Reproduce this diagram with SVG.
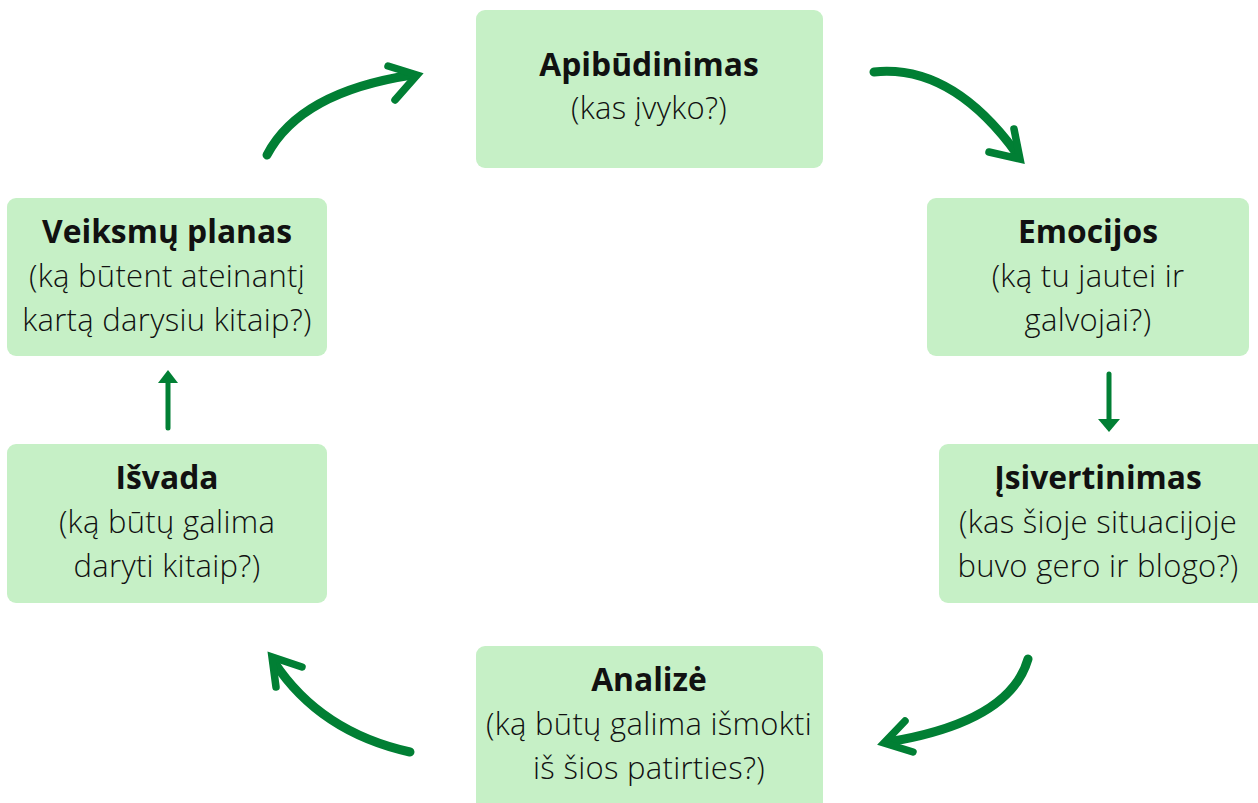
<svg xmlns="http://www.w3.org/2000/svg" width="1258" height="803" viewBox="0 0 1258 803">
<style>
.box{fill:#c6f0c6}
.t{font-family:"Open Sans","Noto Sans","Liberation Sans",sans-serif;font-size:31px;font-weight:300;letter-spacing:0.3px;fill:#111;text-anchor:middle}
.b{font-weight:bold;font-size:31.8px;letter-spacing:0}
.c{fill:none;stroke:#017f34;stroke-width:9;stroke-linecap:round;stroke-linejoin:round}
.h{fill:none;stroke:#017f34;stroke-width:7.5;stroke-linecap:round;stroke-linejoin:miter}
.s{fill:none;stroke:#017f34;stroke-width:5;stroke-linecap:round}
.sh{fill:#017f34}
</style>
<rect width="1258" height="803" fill="#fff"/>
<g id="apibudinimas"><rect class="box" x="476" y="10" width="347" height="158" rx="9"/>
<text class="t b" x="649" y="76">Apibūdinimas</text><text class="t" x="649" y="119">(kas įvyko?)</text></g>
<g id="emocijos"><rect class="box" x="927" y="198" width="322" height="158" rx="9"/>
<text class="t b" x="1088" y="243">Emocijos</text><text class="t" x="1088" y="287">(ką tu jautei ir</text><text class="t" x="1088" y="331">galvojai?)</text></g>
<g id="isivertinimas"><rect class="box" x="939" y="444" width="330" height="159" rx="9"/>
<text class="t b" x="1098" y="489">Įsivertinimas</text><text class="t" x="1098" y="533">(kas šioje situacijoje</text><text class="t" x="1098" y="577">buvo gero ir blogo?)</text></g>
<g id="analize"><rect class="box" x="476" y="646" width="347" height="170" rx="9"/>
<text class="t b" x="649" y="691">Analizė</text><text class="t" x="649" y="735">(ką būtų galima išmokti</text><text class="t" x="649" y="779">iš šios patirties?)</text></g>
<g id="isvada"><rect class="box" x="7" y="444" width="320" height="159" rx="9"/>
<text class="t b" x="167" y="489">Išvada</text><text class="t" x="167" y="533">(ką būtų galima</text><text class="t" x="167" y="577">daryti kitaip?)</text></g>
<g id="veiksmu-planas"><rect class="box" x="7" y="198" width="320" height="158" rx="9"/>
<text class="t b" x="167" y="243">Veiksmų planas</text><text class="t" x="167" y="287">(ką būtent ateinantį</text><text class="t" x="167" y="331">kartą darysiu kitaip?)</text></g>
<g id="connectors">
<path class="c" d="M267,155 Q300,92 412,75"/><path class="h" d="M388,66 L417,75 L395,100"/>
<path class="c" d="M874,72 Q952,64 1017,154"/><path class="h" d="M1014,129 L1020,159 L989,152"/>
<path class="c" d="M1028,659 Q1010,722 888,742"/><path class="h" d="M905,721 L884,743 L913,752"/>
<path class="c" d="M410,752 Q320,732 274,662"/><path class="h" d="M302,667 L272,657 L276,687"/>
<line class="s" x1="1109" y1="374" x2="1109" y2="420"/><path class="sh" d="M1098,419 L1120,419 L1109,432 Z"/>
<line class="s" x1="168" y1="428" x2="168" y2="382"/><path class="sh" d="M158,383 L178,383 L168,370 Z"/>
</g>
</svg>
